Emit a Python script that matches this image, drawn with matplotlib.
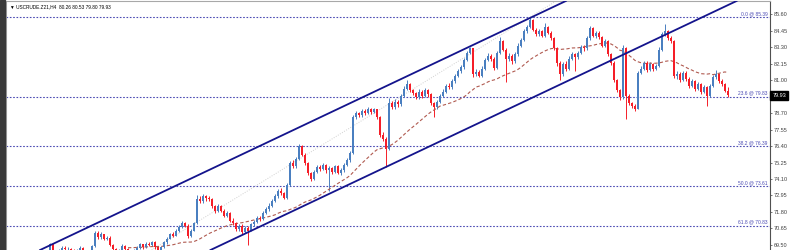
import matplotlib
matplotlib.use("Agg")
import matplotlib.pyplot as plt
from matplotlib.patches import Rectangle
import numpy as np
import pandas as pd

# USCRUDE H4 candles (close / high / low), open = previous close
first_open = 68.80
closes = [
    68.90, 68.95, 68.85, 69.55, 69.05, 68.95, 69.10, 69.30, 69.20, 69.25,
    69.10, 68.95, 69.15, 69.30, 69.10, 68.95, 69.05, 69.40, 70.35, 70.05,
    70.25, 69.95, 70.00, 69.50, 69.20, 69.00, 69.15, 69.45, 69.25, 69.05,
    68.95, 69.10, 69.30, 69.55, 69.35, 69.60, 69.50, 69.70, 69.35, 69.10,
    69.35, 69.70, 69.95, 70.25, 70.15, 70.50, 70.75, 71.00, 70.85, 70.10,
    70.50, 71.00, 72.70, 72.55, 72.90, 72.75, 72.70, 72.20, 71.85, 72.20,
    71.90, 71.55, 71.70, 71.20, 71.00, 70.60, 70.85, 70.40, 70.70, 70.50,
    70.95, 71.10, 71.40, 71.30, 71.75, 72.00, 72.25, 72.60, 72.90, 73.25,
    73.10, 72.80, 73.70, 75.20, 75.00, 75.50, 76.40, 75.80, 75.20, 74.50,
    74.10, 74.60, 74.95, 74.80, 75.05, 74.70, 74.85, 74.60, 75.00, 74.55,
    74.70, 75.10, 75.40, 75.90, 78.40, 78.70, 78.55, 78.85, 78.70, 79.00,
    78.80, 78.95, 78.40, 77.20, 76.90, 76.20, 79.40, 79.10, 79.50, 79.30,
    79.90, 80.40, 80.70, 80.30, 80.10, 79.80, 80.20, 79.90, 80.30, 80.00,
    79.40, 79.10, 79.50, 79.90, 80.20, 80.60, 80.50, 80.90, 81.30, 81.60,
    81.90, 82.40, 82.90, 83.20, 81.40, 81.55, 81.30, 81.80, 82.40, 82.70,
    82.50, 81.85, 82.90, 83.70, 83.10, 82.50, 82.70, 82.30, 82.80, 83.40,
    83.80, 84.40, 84.70, 85.20, 84.50, 84.20, 84.40, 84.10, 84.70, 84.30,
    83.90, 83.20, 82.20, 81.40, 82.10, 81.80, 82.50, 82.80, 82.60, 82.90,
    83.30, 83.20, 83.90, 84.60, 84.10, 84.30, 84.00, 83.40, 83.70, 82.80,
    82.20, 81.00, 80.30, 79.80, 83.20, 79.90, 79.40, 79.20, 79.00, 81.50,
    81.80, 82.20, 81.70, 82.10, 81.80, 82.00, 83.10, 84.20, 84.40, 83.90,
    83.70, 81.30, 81.40, 81.00, 81.50, 81.10, 80.60, 80.90, 80.40, 80.70,
    80.20, 80.50, 79.90, 80.60, 81.20, 81.40, 80.90, 80.70, 80.26, 79.93,
]
highs = [
    69.00, 69.10, 69.05, 69.65, 69.65, 69.15, 69.25, 69.40, 69.40, 69.35,
    69.30, 69.20, 69.25, 69.40, 69.35, 69.15, 69.15, 69.50, 70.50, 70.45,
    70.40, 70.30, 70.15, 70.10, 69.55, 69.30, 69.25, 69.55, 69.50, 69.30,
    69.15, 69.20, 69.40, 69.65, 69.60, 69.70, 69.70, 69.80, 69.75, 69.40,
    69.45, 69.80, 70.05, 70.35, 70.40, 70.60, 70.90, 71.15, 71.10, 70.95,
    70.60, 71.10, 72.95, 72.90, 73.05, 73.00, 72.90, 72.80, 72.30, 72.35,
    72.30, 72.00, 71.85, 71.80, 71.35, 71.10, 70.95, 70.95, 70.85, 70.80,
    71.05, 71.25, 71.55, 71.50, 71.85, 72.15, 72.40, 72.70, 73.05, 73.40,
    73.45, 73.20, 73.85, 75.35, 75.40, 75.65, 76.55, 76.50, 75.90, 75.30,
    74.60, 74.70, 75.10, 75.05, 75.20, 75.15, 75.00, 74.95, 75.10, 75.10,
    74.85, 75.20, 75.55, 76.05, 78.55, 78.85, 78.80, 79.00, 78.95, 79.10,
    79.05, 79.05, 79.00, 78.50, 77.35, 77.00, 79.75, 79.55, 79.65, 79.60,
    80.05, 80.55, 81.00, 80.80, 80.40, 80.20, 80.35, 80.30, 80.45, 80.40,
    80.10, 79.50, 79.60, 80.00, 80.35, 80.75, 80.80, 81.05, 81.45, 81.75,
    82.05, 82.55, 83.05, 83.30, 83.25, 81.75, 81.70, 81.95, 82.55, 82.85,
    82.80, 82.60, 83.05, 84.00, 83.80, 83.20, 82.85, 82.80, 82.95, 83.55,
    83.95, 84.55, 84.85, 85.39, 85.25, 84.60, 84.55, 84.50, 85.00, 84.80,
    84.40, 84.00, 83.30, 82.30, 82.25, 82.35, 82.65, 82.95, 82.90, 83.05,
    83.45, 83.45, 84.05, 84.80, 84.70, 84.45, 84.40, 84.10, 83.85, 83.80,
    82.90, 82.30, 81.10, 80.40, 83.45, 83.30, 80.00, 79.50, 79.30, 81.65,
    81.95, 82.35, 82.30, 82.25, 82.20, 82.15, 83.30, 84.35, 84.90, 84.50,
    84.05, 83.80, 81.60, 81.55, 81.65, 81.60, 81.20, 81.05, 81.00, 80.85,
    80.80, 80.65, 80.60, 80.75, 81.35, 81.70, 81.50, 81.05, 80.80, 80.53,
]
lows = [
    68.70, 68.80, 68.75, 68.80, 68.95, 68.85, 68.90, 69.00, 69.10, 69.10,
    69.00, 68.85, 68.90, 69.05, 69.00, 68.85, 68.90, 69.00, 69.35, 69.95,
    69.95, 69.85, 69.85, 69.40, 69.10, 68.90, 68.95, 69.10, 69.15, 68.95,
    68.85, 68.90, 69.05, 69.25, 69.25, 69.30, 69.40, 69.45, 69.25, 69.00,
    69.05, 69.30, 69.60, 69.90, 70.05, 70.10, 70.40, 70.70, 70.75, 70.00,
    70.05, 70.45, 70.95, 72.40, 72.45, 72.60, 72.55, 72.10, 71.70, 71.80,
    71.80, 71.45, 71.45, 71.10, 70.90, 70.50, 70.50, 70.30, 70.35, 69.50,
    70.45, 70.85, 71.00, 71.15, 71.25, 71.65, 71.90, 72.15, 72.50, 72.80,
    73.00, 72.70, 72.70, 73.60, 74.85, 74.90, 75.40, 75.70, 75.10, 74.40,
    73.95, 74.00, 74.50, 74.65, 74.70, 74.55, 73.25, 74.45, 74.50, 74.45,
    74.40, 74.60, 75.00, 75.30, 75.85, 78.25, 78.40, 78.45, 78.55, 78.60,
    78.65, 78.70, 78.30, 77.05, 76.75, 74.95, 76.10, 78.95, 79.00, 79.15,
    79.20, 79.80, 80.30, 80.20, 79.95, 79.65, 79.70, 79.75, 79.80, 79.85,
    79.25, 78.40, 79.00, 79.40, 79.80, 80.10, 80.35, 80.40, 80.80, 81.20,
    81.50, 81.80, 82.30, 82.80, 81.20, 81.25, 81.20, 81.20, 81.70, 82.30,
    82.35, 81.70, 81.80, 82.80, 83.00, 80.85, 82.35, 82.15, 82.20, 82.70,
    83.30, 83.70, 84.30, 84.60, 84.40, 84.10, 84.10, 84.00, 84.00, 84.20,
    83.80, 83.10, 81.95, 81.00, 81.30, 81.65, 81.70, 82.40, 81.60, 82.50,
    82.80, 83.05, 83.10, 83.80, 84.00, 83.95, 83.85, 83.30, 83.30, 82.70,
    82.05, 80.85, 80.15, 79.60, 79.70, 78.30, 79.25, 79.05, 78.85, 78.95,
    81.40, 81.70, 81.55, 81.60, 81.65, 81.70, 81.90, 83.00, 84.10, 83.80,
    83.60, 81.15, 81.10, 80.85, 80.90, 80.95, 80.45, 80.50, 80.25, 80.30,
    80.05, 80.10, 79.20, 79.80, 80.50, 81.10, 80.80, 80.55, 80.15, 79.80,
]

# fibonacci retracement levels
fib_pcts = ["0.0", "23.6", "38.2", "50.0", "61.8"]
fib_prices = [85.39, 79.83, 76.39, 73.61, 70.83]

# channel lines: two anchor points each (bar index, price)
upper_channel = [(0, 69.18), (170, 86.02)]
lower_channel = [(56, 69.10), (226, 85.93)]
# fibo trend line (swing low -> swing high)
fib_trend = [(-20, 61.83), (163, 85.39)]

# right price scale; 79.85 sits under the current price box
y_ticks = [85.60, 84.45, 83.30, 82.15, 81.00, 79.85, 78.70, 77.55,
           76.40, 75.25, 74.10, 72.95, 71.80, 70.65, 69.50]
hidden_tick = 79.85
header = "\u25bc USCRUDE.Z21,H4  80.26 80.53 79.80 79.93"
last_price = 79.93
ma_period = 30

bull_color = "#4a7fc0"
bear_color = "#f51e28"
fib_color = "#4b4bb4"
channel_color = "#14148c"

# small terminal-like font
plt.rcParams["font.family"] = ["Liberation Sans", "DejaVu Sans"]

df = pd.DataFrame({"close": closes, "high": highs, "low": lows})
df["open"] = [first_open] + closes[:-1]
df["ma"] = df["close"].rolling(ma_period).mean()
x = np.arange(len(df))

fig = plt.figure(figsize=(7.91, 2.50), dpi=100)
ax = fig.add_axes([6 / 791, 0, 764 / 791, 249 / 250])

# dark strip on the far left
fig.patches.append(Rectangle((0, 0), 5 / 791, 1, transform=fig.transFigure,
                             color="#3a3a3a", zorder=0))

# fib levels
for pct, price in zip(fib_pcts, fib_prices):
    ax.axhline(price, color=fib_color, lw=0.8, ls=(0, (1.5, 1.5)), zorder=1)
    ax.text(0.997, price + 0.08, f"{pct} @ {price:.2f}", transform=ax.get_yaxis_transform(),
            ha="right", va="bottom", fontsize=3.5, color=fib_color, zorder=5)

# faint fib trend line
ax.axline(fib_trend[0], fib_trend[1], color="#d0d0d0", lw=0.7, ls=(0, (1, 1.5)), zorder=1)

# candles
up = df["close"] >= df["open"]
colors = np.where(up, bull_color, bear_color)
ax.vlines(x, df["low"], df["high"], colors=colors, lw=0.7, zorder=2)
body_low = np.minimum(df["open"], df["close"])
body_h = np.maximum((df["close"] - df["open"]).abs(), 0.04)
ax.bar(x, body_h, bottom=body_low, width=0.68, color=colors, lw=0, zorder=3)

# moving average
ax.plot(x, df["ma"], color="#b05a50", lw=0.8, ls=(0, (3, 2)), zorder=2)

# channel
ax.axline(upper_channel[0], upper_channel[1], color=channel_color, lw=1.3, zorder=4)
ax.axline(lower_channel[0], lower_channel[1], color=channel_color, lw=1.3, zorder=4)

ax.set_xlim(-11.67, 243)
ax.set_ylim(69.15, 86.51)

# axis on the right like the terminal
ax.yaxis.tick_right()
ax.set_yticks(y_ticks)
ax.set_yticklabels(["" if v == hidden_tick else f"{v:.2f}" for v in y_ticks])
ax.tick_params(axis="y", labelsize=4.0, length=1.5, width=0.5, pad=1.5,
               colors="#404040", labelcolor="#404040")
ax.set_xticks([])
ax.spines["bottom"].set_visible(False)
ax.spines["left"].set_color("#a8a8a8")
ax.spines["top"].set_color("#a8a8a8")
ax.spines["right"].set_color("#505050")
for s in ax.spines.values():
    s.set_linewidth(0.8)

# current price box
ax.text(1.003, last_price, f"{last_price:.2f}", transform=ax.get_yaxis_transform(),
        ha="left", va="center", fontsize=4.0, color="white", zorder=10, clip_on=False,
        bbox=dict(boxstyle="square,pad=0.35", fc="black", ec="black"))

ax.text(0.005, 0.985, header, transform=ax.transAxes, ha="left", va="top",
        fontsize=3.4, color="black")

fig.savefig("out.png", dpi=100)
